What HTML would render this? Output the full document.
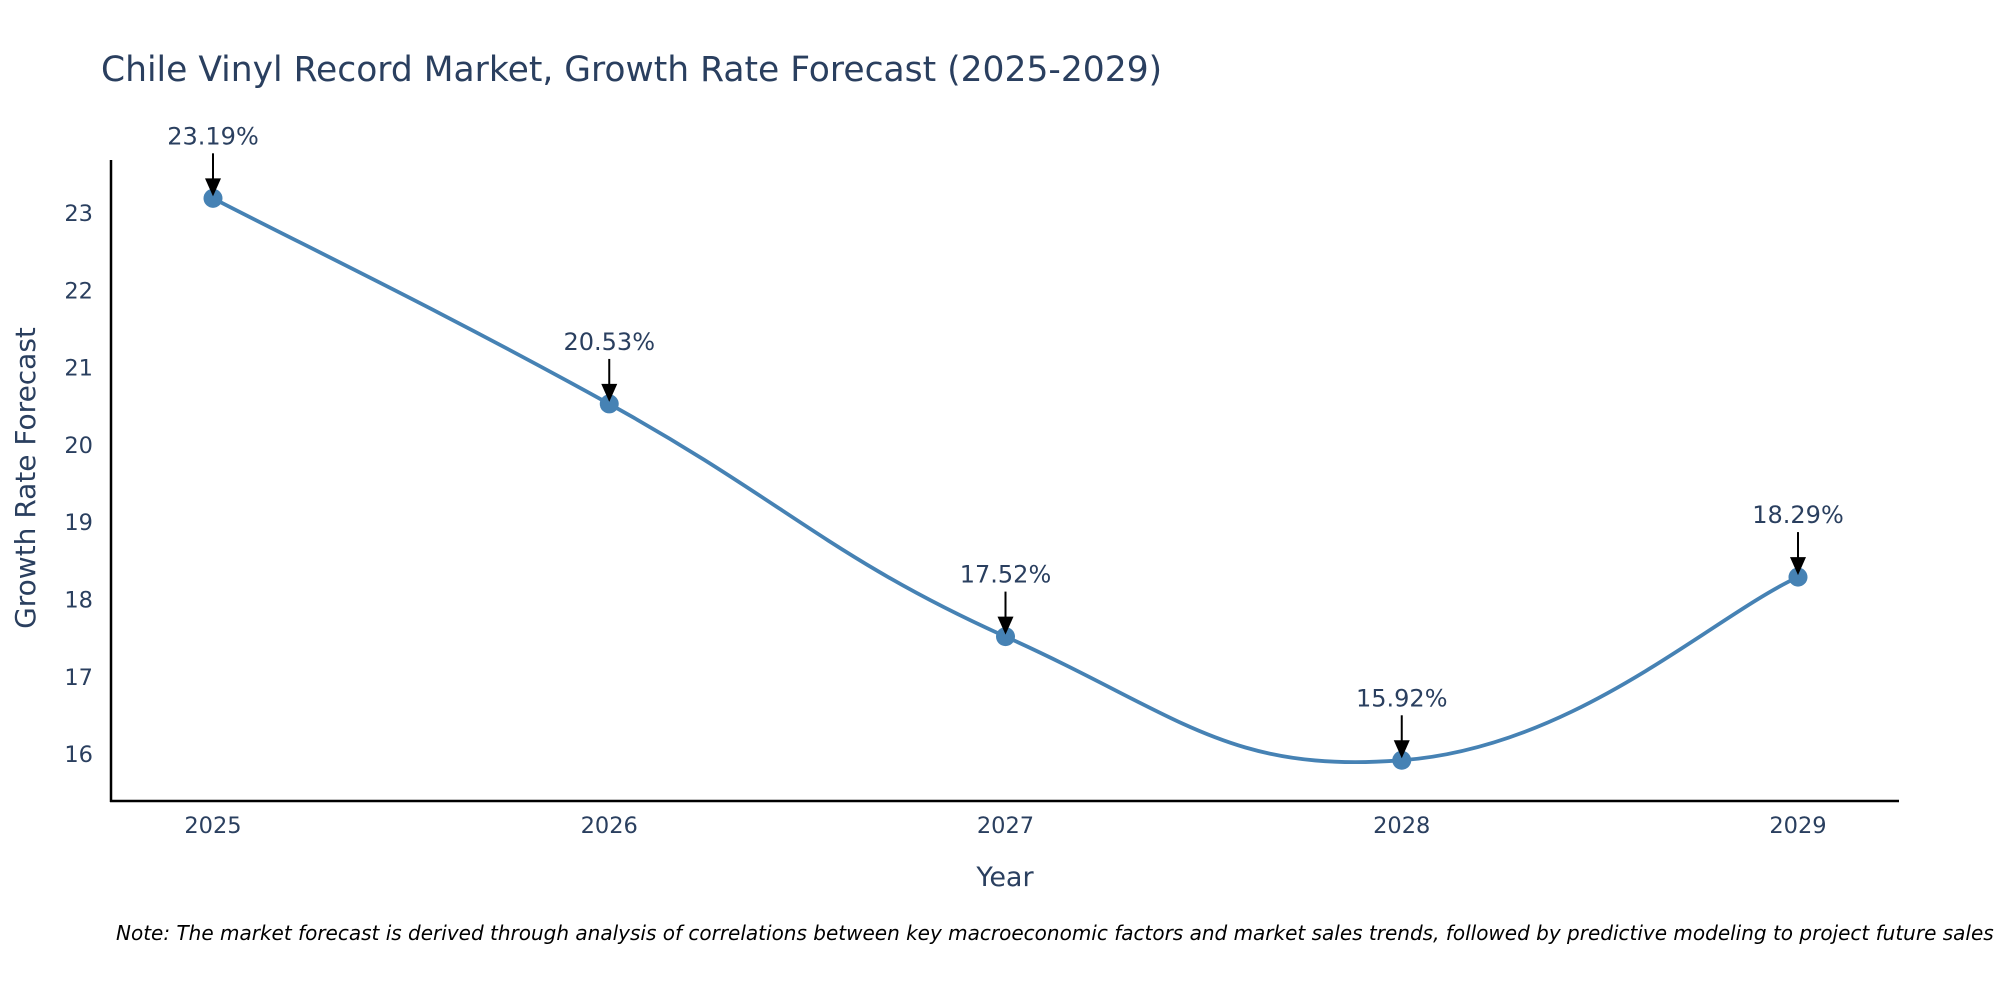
<!DOCTYPE html>
<html><head><meta charset="utf-8">
<style>
html,body{margin:0;padding:0;background:#fff;}
svg{display:block;font-family:"DejaVu Sans","Liberation Sans",sans-serif;}
</style></head>
<body>
<svg id="chart" width="2000" height="1000" viewBox="0 0 2000 1000">
<text x="101" y="81" font-size="34.5" fill="#2a3f5f">Chile Vinyl Record Market, Growth Rate Forecast (2025-2029)</text>
<g id="axes"></g>
<g id="marks"></g>
<text x="1005" y="886" font-size="27" fill="#2a3f5f" text-anchor="middle">Year</text>
<text transform="translate(35,478) rotate(-90)" font-size="28" fill="#2a3f5f" text-anchor="middle">Growth Rate Forecast</text>
<text x="116" y="940" font-size="20" font-style="italic" fill="#000">Note: The market forecast is derived through analysis of correlations between key macroeconomic factors and market sales trends, followed by predictive modeling to project future sales</text>
</svg>
<script>
const categories = ["2025","2026","2027","2028","2029"];
const values = [23.19, 20.53, 17.52, 15.92, 18.29];
const labels = ["23.19%","20.53%","17.52%","15.92%","18.29%"];
const yTicks = [16,17,18,19,20,21,22,23];

const NS = "http://www.w3.org/2000/svg";
function xs(i){ return 213 + i*396.25; }
function ys(v){ return 213 + (23 - v)*77.3; }
function mk(tag, attrs, parent){ const e=document.createElementNS(NS,tag); for(const k in attrs) e.setAttribute(k,attrs[k]); parent.appendChild(e); return e; }

const axes=document.getElementById('axes');
const marks=document.getElementById('marks');
const yl = mk('line',{x1:111,y1:160,x2:111,y2:802,stroke:'#000','stroke-width':2.5},axes);


const xl = mk('line',{x1:110,y1:801,x2:1899,y2:801,stroke:'#000','stroke-width':2.5},axes);


yTicks.forEach(t=>{
  const e=mk('text',{x:93,y:ys(t)+8,'font-size':22.5,fill:'#2a3f5f','text-anchor':'end'},axes);
  e.textContent=t;
  
  
});
categories.forEach((c,i)=>{
  const e=mk('text',{x:xs(i),y:833,'font-size':22.5,fill:'#2a3f5f','text-anchor':'middle'},axes);
  e.textContent=c;
  
  
});

const pts=values.map((v,i)=>[xs(i),ys(v)]);
let d=`M${pts[0][0]},${pts[0][1]}`;
const k=0.22;
for(let i=0;i<pts.length-1;i++){
  const p0=pts[Math.max(0,i-1)],p1=pts[i],p2=pts[i+1],p3=pts[Math.min(pts.length-1,i+2)];
  const c1=[p1[0]+(p2[0]-p0[0])*k, p1[1]+(p2[1]-p0[1])*k];
  const c2=[p2[0]-(p3[0]-p1[0])*k, p2[1]-(p3[1]-p1[1])*k];
  d+=` C${c1[0]},${c1[1]} ${c2[0]},${c2[1]} ${p2[0]},${p2[1]}`;
}
const line=mk('path',{d:d,fill:'none',stroke:'#4682b4','stroke-width':3.8},marks);


pts.forEach((p,i)=>{
  const c=mk('circle',{cx:p[0],cy:p[1],r:9.5,fill:'#4682b4'},marks);
  
  
  const a=mk('line',{x1:p[0],y1:p[1]-45,x2:p[0],y2:p[1]-16,stroke:'#000','stroke-width':2},marks);
  
  
  const h=mk('path',{d:`M${p[0]-8},${p[1]-20} L${p[0]+8},${p[1]-20} L${p[0]},${p[1]-2} Z`,fill:'#000'},marks);
  
  
  const t=mk('text',{x:p[0],y:p[1]-54,'font-size':24,fill:'#2a3f5f','text-anchor':'middle'},marks);
  t.textContent=labels[i];
  
  
});
</script>
</body></html>
